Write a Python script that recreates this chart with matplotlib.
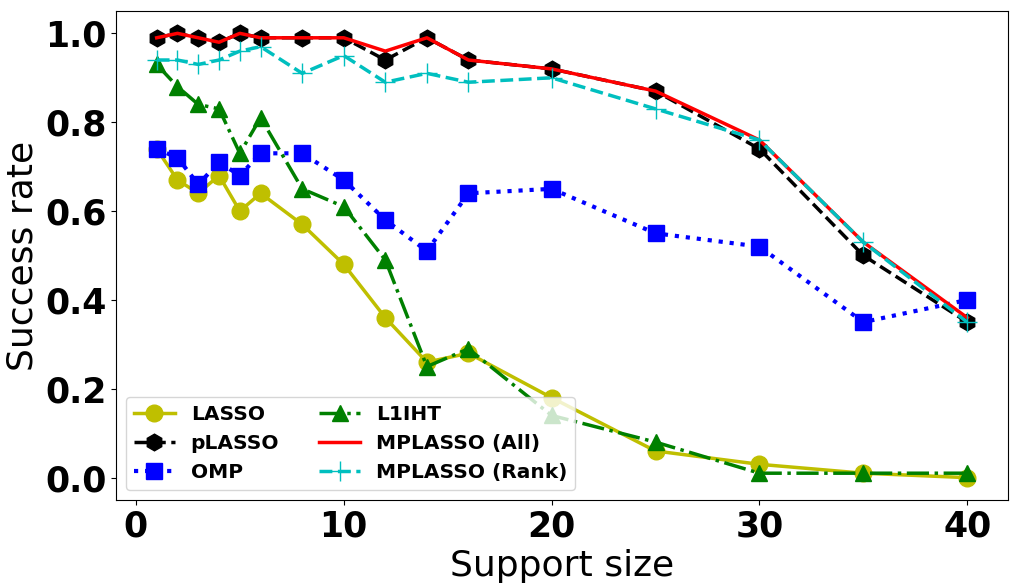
import matplotlib
matplotlib.use("Agg")
import matplotlib.pyplot as plt
from matplotlib.ticker import MultipleLocator

support = [1, 2, 3, 4, 5, 6, 8, 10, 12, 14, 16, 20, 25, 30, 35, 40]

lasso = [0.74, 0.67, 0.64, 0.68, 0.60, 0.64, 0.57, 0.48, 0.36, 0.26, 0.28, 0.18, 0.06, 0.03, 0.01, 0.00]
plasso = [0.99, 1.00, 0.99, 0.98, 1.00, 0.99, 0.99, 0.99, 0.94, 0.99, 0.94, 0.92, 0.87, 0.74, 0.50, 0.35]
omp = [0.74, 0.72, 0.66, 0.71, 0.68, 0.73, 0.73, 0.67, 0.58, 0.51, 0.64, 0.65, 0.55, 0.52, 0.35, 0.40]
l1iht = [0.93, 0.88, 0.84, 0.83, 0.73, 0.81, 0.65, 0.61, 0.49, 0.25, 0.29, 0.14, 0.08, 0.01, 0.01, 0.01]
mplasso_all = [0.99, 1.00, 0.99, 0.98, 1.00, 0.99, 0.99, 0.99, 0.96, 0.99, 0.94, 0.92, 0.87, 0.76, 0.53, 0.36]
mplasso_rank = [0.94, 0.94, 0.93, 0.94, 0.96, 0.97, 0.91, 0.95, 0.89, 0.91, 0.89, 0.90, 0.83, 0.76, 0.53, 0.35]

fig, ax = plt.subplots(figsize=(10.19, 5.86), dpi=100)
fig.subplots_adjust(left=0.114, right=0.989, top=0.981, bottom=0.147)

lw = 2.5
ms = 12
ax.plot(support, lasso, "y-o", lw=lw, ms=ms, label="LASSO")
ax.plot(support, plasso, "k--h", lw=lw, ms=ms, label="pLASSO")
ax.plot(support, omp, "b:s", lw=lw + 0.5, ms=ms, label="OMP")
ax.plot(support, l1iht, "g-.^", lw=lw, ms=ms, label="L1IHT")
ax.plot(support, mplasso_all, "r-", lw=lw, label="MPLASSO (All)")
ax.plot(support, mplasso_rank, "c--+", lw=lw, ms=ms + 2, label="MPLASSO (Rank)")

ax.xaxis.set_major_locator(MultipleLocator(10))
ax.set_xlabel("Support size", fontsize=26)
ax.set_ylabel("Success rate", fontsize=26)
for lab in ax.get_xticklabels() + ax.get_yticklabels():
    lab.set_fontsize(25)
    lab.set_fontweight("bold")

ax.legend(loc="lower left", ncol=2, prop={"size": 14.5, "weight": "bold"})

plt.savefig("out.png")
